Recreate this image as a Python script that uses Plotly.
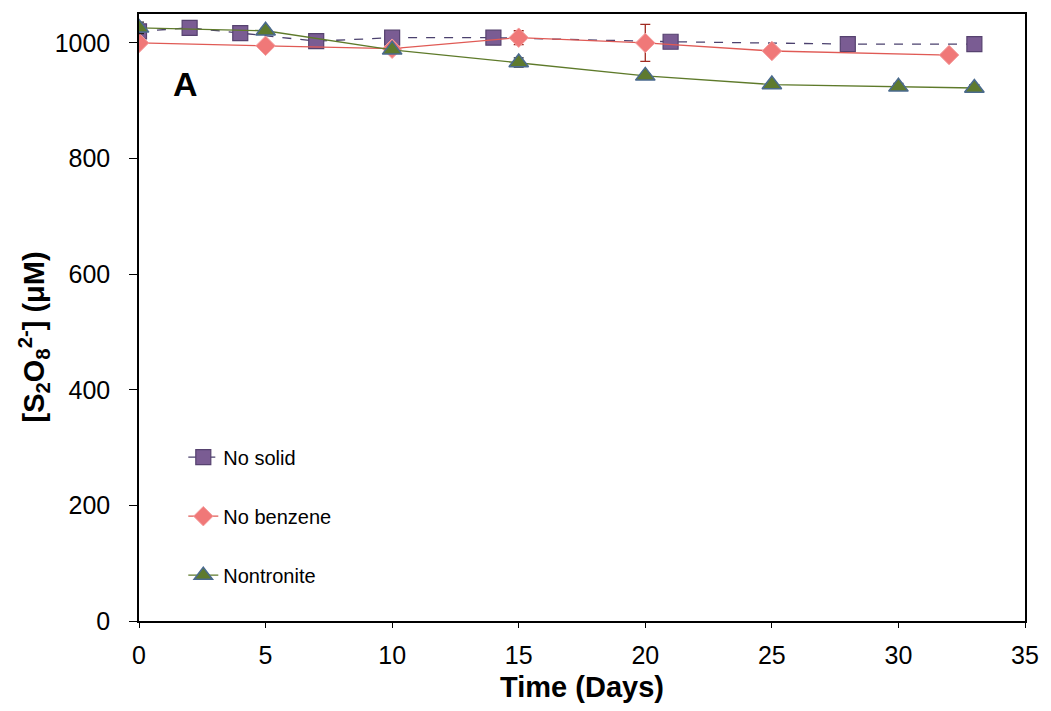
import plotly.graph_objects as go

solid_x = [0, 2, 4, 7, 10, 14, 21, 28, 33]
solid_y = [1020, 1026, 1017, 1003, 1009, 1009, 1002, 998, 998]

benz_x = [0, 5, 10, 15, 20, 25, 32]
benz_y = [1000, 995, 990, 1009, 1000, 986, 979]
benz_err = [3, 5, 3, 12, 32, 3, 3]

nont_x = [0, 5, 10, 15, 20, 25, 30, 33]
nont_y = [1026, 1021, 988, 966, 943, 928, 924, 922]
nont_err = [10, 4, 3, 8, 4, 3, 6, 6]

fig = go.Figure()
fig.add_trace(go.Scatter(
    x=solid_x, y=solid_y, name="No solid", mode="lines+markers",
    line=dict(color="#4B416E", width=1.3, dash="dash"),
    marker=dict(symbol="square", size=15, color="#7A5C93", line=dict(color="#56426F", width=1.2)),
    legendgroup="a"))
fig.add_trace(go.Scatter(
    x=benz_x, y=benz_y, name="No benzene", mode="lines+markers",
    line=dict(color="#E05A55", width=1.3),
    marker=dict(symbol="diamond", size=15, color="#F07878", line=dict(color="#F4A0A0", width=1)),
    error_y=dict(type="data", array=benz_err, color="#A02A20", thickness=1.3, width=5),
    legendgroup="b"))
fig.add_trace(go.Scatter(
    x=nont_x, y=nont_y, name="Nontronite", mode="lines+markers",
    line=dict(color="#5E7A2A", width=1.3),
    marker=dict(symbol="triangle-up", size=17, color="#5E7A2E", line=dict(color="#4A6A8E", width=1.5)),
    error_y=dict(type="data", array=nont_err, color="#222222", thickness=1.3, width=5),
    legendgroup="c"))

fig.add_annotation(x=0.052, y=0.885, xref="paper", yref="paper", text="<b>A</b>",
                   showarrow=False, xanchor="center", yanchor="middle",
                   font=dict(size=34, color="black", family="Liberation Sans"))

fig.add_annotation(x=-0.119, y=0.468, xref="paper", yref="paper",
                   text="<b>[S<sub>2</sub>O<sub>8</sub><sup>2-</sup>] (μM)</b>",
                   textangle=-90, showarrow=False, xanchor="center", yanchor="middle",
                   font=dict(size=29, color="black", family="Liberation Sans"))

fig.update_layout(
    width=1051, height=711,
    margin=dict(l=139, r=19, t=12, b=90),
    paper_bgcolor="white", plot_bgcolor="white",
    font=dict(family="Liberation Sans, Arial", size=25, color="black"),
    showlegend=True,
    legend=dict(x=0.05, y=0.302, xanchor="left", yanchor="top", bgcolor="rgba(0,0,0,0)",
                font=dict(size=20), tracegroupgap=30),
    xaxis=dict(range=[0, 35], dtick=5, showline=True, linecolor="black", linewidth=1.5,
               mirror=True, ticks="outside", ticklen=5, tickcolor="black", showgrid=False,
               zeroline=False, tickfont=dict(size=25), ticklabelstandoff=6,
               title=dict(text="<b>Time (Days)</b>", font=dict(size=29), standoff=9)),
    yaxis=dict(range=[0, 1050], tickvals=[0, 200, 400, 600, 800, 1000], showline=True,
               linecolor="black", linewidth=1.5, mirror=True, ticks="outside", ticklen=8,
               tickcolor="black", showgrid=False, zeroline=False, tickfont=dict(size=25),
               ticklabelstandoff=14),
)
fig.write_html("out.html")
